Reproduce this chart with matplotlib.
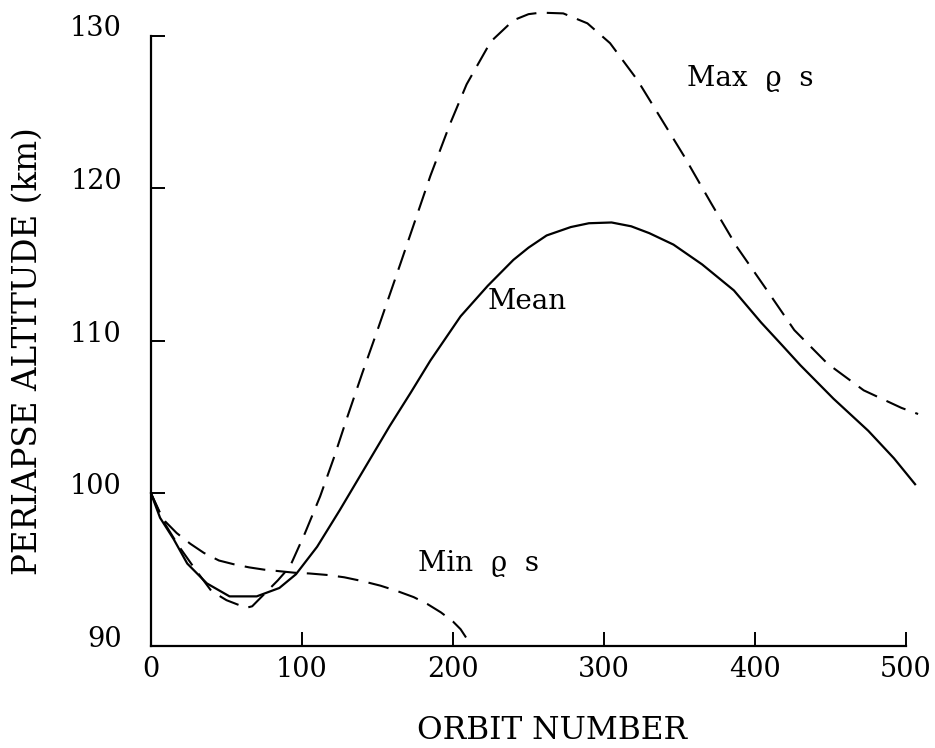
import numpy as np
import matplotlib
matplotlib.use('Agg')
import matplotlib.pyplot as plt
import matplotlib.transforms as mtransforms

plt.rcParams['font.family'] = ['DejaVu Serif', 'DejaVu Sans']

# values
mean_x = [0, 6, 15, 24, 37, 52, 70, 85, 96, 110, 125, 134, 146, 158, 172, 185,
          205, 223, 240, 250, 262, 278, 290, 305, 318, 330, 346, 365, 386, 404,
          418, 430, 452, 475, 492, 506]
mean_y = [100, 98.4, 97.0, 95.4, 94.1, 93.25, 93.25, 93.8, 94.7, 96.5, 98.9,
          100.4, 102.4, 104.4, 106.6, 108.7, 111.6, 113.6, 115.3, 116.1, 116.9,
          117.45, 117.7, 117.75, 117.5, 117.05, 116.3, 115.0, 113.3, 111.2,
          109.7, 108.4, 106.2, 104.1, 102.3, 100.6]

max_x = [0, 8, 18, 28, 40, 50, 63, 67, 77, 84, 92, 102, 112, 121, 130, 140,
         150, 165, 175, 185, 198, 209, 225, 240, 250, 258, 273, 289, 304,
         322, 340, 353, 371, 388, 408, 426, 448, 472, 497, 508]
max_y = [100, 98.2, 96.6, 95.2, 93.6, 93.0, 92.5, 92.6, 93.6, 94.3, 95.2, 97.4,
         99.8, 102.3, 105.0, 107.9, 110.7, 115.0, 117.9, 120.8, 124.2,
         126.8, 129.6, 131.0, 131.4, 131.5, 131.45, 130.8, 129.5, 127.1, 124.2,
         122.1, 119.0, 116.15, 113.3, 110.7, 108.5, 106.75, 105.6, 105.2]

min_x = [0, 8, 17, 26, 35, 45, 55, 65, 75, 85, 95, 105, 117, 128, 140,
         152, 163, 174, 183, 192, 200, 205, 209, 212]
min_y = [100, 98.3, 97.4, 96.7, 96.1, 95.6, 95.35, 95.15, 95.0, 94.9, 94.8,
         94.75, 94.65, 94.5, 94.25, 93.95, 93.6, 93.2, 92.75, 92.2, 91.6,
         91.1, 90.5, 90.0]

x_ticks = [0, 100, 200, 300, 400, 500]
y_ticks = [90, 100, 110, 120, 130]

fig = plt.figure(figsize=(9.35, 7.48), dpi=100)
ax = fig.add_axes([0.1615, 0.1364, 0.8075, 0.8161])

dash = (10, 5)
ax.plot(mean_x, mean_y, color='black', lw=1.6, clip_on=False)
ax.plot(max_x, max_y, color='black', lw=1.5, dashes=dash, clip_on=False)
ax.plot(min_x, min_y, color='black', lw=1.5, dashes=dash, clip_on=False)

ax.set_xlim(0, 500)
ax.set_ylim(90, 130)
ax.set_xticks(x_ticks)
ax.set_yticks(y_ticks)

for s in ['top', 'right']:
    ax.spines[s].set_visible(False)
for s in ['left', 'bottom']:
    ax.spines[s].set_linewidth(1.6)

ax.tick_params(axis='both', direction='in', length=10, width=1.4,
               labelsize=19.5, colors='black')
ax.tick_params(axis='x', pad=7)
ax.tick_params(axis='y', pad=21)

# y labels sit a little above their ticks in the original
offset = mtransforms.ScaledTranslation(0, 7/72, fig.dpi_scale_trans)
for lab in ax.get_yticklabels():
    lab.set_transform(lab.get_transform() + offset)

# curve labels
ax.text(355, 127.2, 'Max  ϱ  s', fontsize=20, va='center', ha='left')
ax.text(223, 112.6, 'Mean', fontsize=20, va='center', ha='left')
ax.text(177, 95.4, 'Min  ϱ  s', fontsize=20, va='center', ha='left')

fig.text(28/935, 0.531, 'PERIAPSE ALTITUDE (km)', rotation=90,
         fontsize=23.5, ha='center', va='center')
fig.text(552/935, 0.024, 'ORBIT NUMBER', fontsize=22.5, ha='center', va='center')

plt.savefig('out.png', dpi=100)
